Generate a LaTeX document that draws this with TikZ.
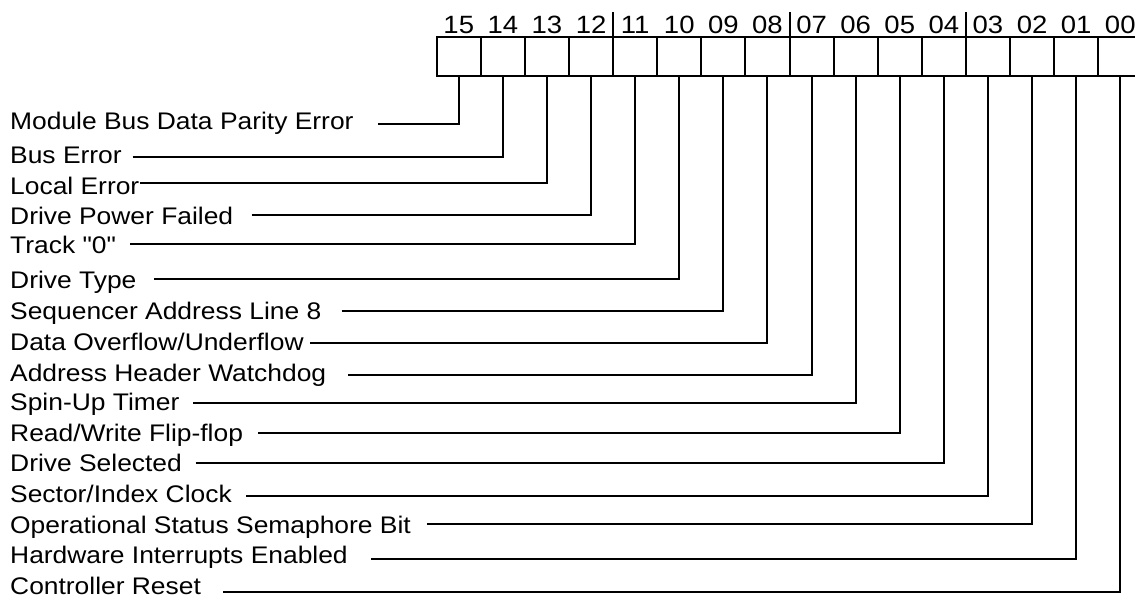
\documentclass[tikz,border=0pt]{standalone}
\usepackage{fontspec}
\setmainfont{Liberation Sans}[FakeStretch=1.1, Ligatures=TeXOff]
\usetikzlibrary{positioning}

\begin{document}
\begin{tikzpicture}[x=1pt, y=1pt,
    cell/.style={rectangle, draw, line width=2pt, minimum width=44.1pt, minimum height=39.3pt, inner sep=0pt, outer sep=0pt},
    bitnum/.style={font=\fontsize{25}{30}\selectfont, inner sep=0pt},
    lbl/.style={font=\fontsize{24}{29}\selectfont, inner sep=0pt, anchor=base west},
    wire/.style={line width=2pt},
]
    \useasboundingbox (0,0) rectangle (1135,-598);

    % register cells
    \node[cell] (c15) at (458.75,-56.35) {};
    \node[cell, right=0pt of c15] (c14) {};
    \node[cell, right=0pt of c14] (c13) {};
    \node[cell, right=0pt of c13] (c12) {};
    \node[cell, right=0pt of c12] (c11) {};
    \node[cell, right=0pt of c11] (c10) {};
    \node[cell, right=0pt of c10] (c09) {};
    \node[cell, right=0pt of c09] (c08) {};
    \node[cell, right=0pt of c08] (c07) {};
    \node[cell, right=0pt of c07] (c06) {};
    \node[cell, right=0pt of c06] (c05) {};
    \node[cell, right=0pt of c05] (c04) {};
    \node[cell, right=0pt of c04] (c03) {};
    \node[cell, right=0pt of c03] (c02) {};
    \node[cell, right=0pt of c02] (c01) {};
    \node[cell, right=0pt of c01] (c00) {};

    % bit numbers
    \node[bitnum, above=3.4pt of c15, anchor=base] (n15) {15};
    \node[bitnum, above=3.4pt of c14, anchor=base] (n14) {14};
    \node[bitnum, above=3.4pt of c13, anchor=base] (n13) {13};
    \node[bitnum, above=3.4pt of c12, anchor=base] (n12) {12};
    \node[bitnum, above=3.4pt of c11, anchor=base] (n11) {11};
    \node[bitnum, above=3.4pt of c10, anchor=base] (n10) {10};
    \node[bitnum, above=3.4pt of c09, anchor=base] (n09) {09};
    \node[bitnum, above=3.4pt of c08, anchor=base] (n08) {08};
    \node[bitnum, above=3.4pt of c07, anchor=base] (n07) {07};
    \node[bitnum, above=3.4pt of c06, anchor=base] (n06) {06};
    \node[bitnum, above=3.4pt of c05, anchor=base] (n05) {05};
    \node[bitnum, above=3.4pt of c04, anchor=base] (n04) {04};
    \node[bitnum, above=3.4pt of c03, anchor=base] (n03) {03};
    \node[bitnum, above=3.4pt of c02, anchor=base] (n02) {02};
    \node[bitnum, above=3.4pt of c01, anchor=base] (n01) {01};
    \node[bitnum, above=3.4pt of c00, anchor=base] (n00) {00};

    % nibble separators
    \draw[wire] (c12.north east) -- ++(0,25);
    \draw[wire] (c08.north east) -- ++(0,25);
    \draw[wire] (c04.north east) -- ++(0,25);

    % status bits
    \node[lbl] (l15) at (10,-129.5) {Module Bus Data Parity Error};
    \coordinate (s15) at (378,-124);   \draw[wire] (s15) -| (c15.south);
    \node[lbl] (l14) at (10,-163.3) {Bus Error};
    \coordinate (s14) at (132.7,-156.7); \draw[wire] (s14) -| (c14.south);
    \node[lbl] (l13) at (10,-194.3) {Local Error};
    \coordinate (s13) at (140,-182.7); \draw[wire] (s13) -| (c13.south);
    \node[lbl] (l12) at (10,-224) {Drive Power Failed};
    \coordinate (s12) at (251.7,-215); \draw[wire] (s12) -| (c12.south);
    \node[lbl] (l11) at (10,-253.3) {Track "0"};
    \coordinate (s11) at (130,-244.3); \draw[wire] (s11) -| (c11.south);
    \node[lbl] (l10) at (10,-288.3) {Drive Type};
    \coordinate (s10) at (154,-279.3); \draw[wire] (s10) -| (c10.south);
    \node[lbl] (l09) at (10,-319.3) {Sequencer Address Line 8};
    \coordinate (s09) at (341.7,-311); \draw[wire] (s09) -| (c09.south);
    \node[lbl] (l08) at (10,-350) {Data Overflow/Underflow};
    \coordinate (s08) at (310,-342.7); \draw[wire] (s08) -| (c08.south);
    \node[lbl] (l07) at (10,-381.7) {Address Header Watchdog};
    \coordinate (s07) at (348.3,-375); \draw[wire] (s07) -| (c07.south);
    \node[lbl] (l06) at (10,-410) {Spin-Up Timer};
    \coordinate (s06) at (193.3,-403.3); \draw[wire] (s06) -| (c06.south);
    \node[lbl] (l05) at (10,-441) {Read/Write Flip-flop};
    \coordinate (s05) at (258,-432.7); \draw[wire] (s05) -| (c05.south);
    \node[lbl] (l04) at (10,-471.7) {Drive Selected};
    \coordinate (s04) at (195.7,-462.7); \draw[wire] (s04) -| (c04.south);
    \node[lbl] (l03) at (10,-502.3) {Sector/Index Clock};
    \coordinate (s03) at (246,-495.7); \draw[wire] (s03) -| (c03.south);
    \node[lbl] (l02) at (10,-533) {Operational Status Semaphore Bit};
    \coordinate (s02) at (426.8,-524.3); \draw[wire] (s02) -| (c02.south);
    \node[lbl] (l01) at (10,-563.6) {Hardware Interrupts Enabled};
    \coordinate (s01) at (371.4,-559.3); \draw[wire] (s01) -| (c01.south);
    \node[lbl] (l00) at (10,-594.3) {Controller Reset};
    \coordinate (s00) at (223.2,-591.7); \draw[wire] (s00) -| (c00.south);
\end{tikzpicture}
\end{document}
